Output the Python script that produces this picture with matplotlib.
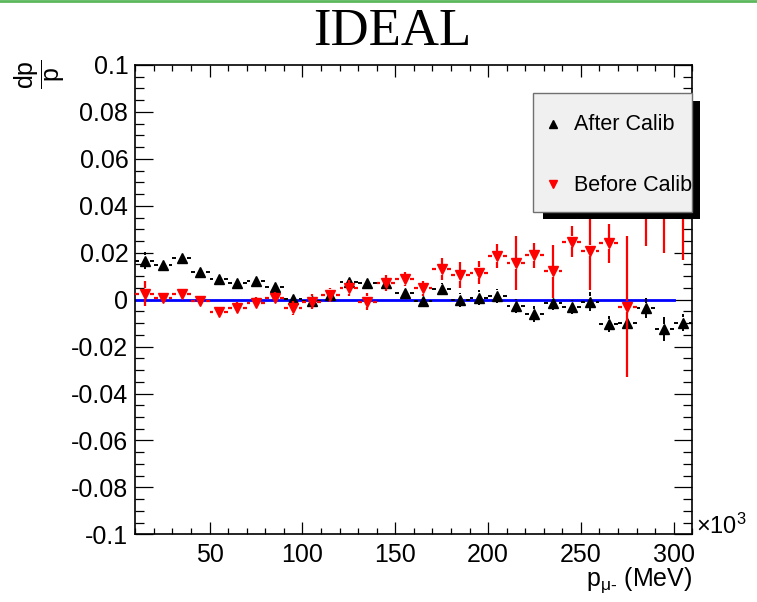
import matplotlib
matplotlib.use("Agg")
import matplotlib.pyplot as plt
import numpy as np
from matplotlib.collections import LineCollection
from matplotlib.patches import Rectangle
from matplotlib.lines import Line2D
from matplotlib.ticker import MultipleLocator, FixedLocator, FuncFormatter
from matplotlib.transforms import Bbox, TransformedBbox

plt.rcParams['font.family'] = ['Liberation Sans', 'DejaVu Sans']
plt.rcParams['mathtext.fontset'] = 'custom'
plt.rcParams['mathtext.rm'] = 'Liberation Sans'
plt.rcParams['mathtext.it'] = 'Liberation Sans'
plt.rcParams['mathtext.bf'] = 'Liberation Sans:bold'
plt.rcParams['mathtext.sf'] = 'Liberation Sans'

# momentum bin centres (x10^3 MeV) and half bin width
p_bins = [15, 25, 35, 45, 55, 65, 75, 85, 95, 105, 115, 125, 135, 145, 155,
          165, 175, 185, 195, 205, 215, 225, 235, 245, 255, 265, 275, 285, 295, 305]
bin_half = 5.0

# relative momentum residual after calibration
after_dp = [0.0165, 0.0148, 0.0176, 0.0119, 0.0088, 0.0073, 0.0080, 0.0053, 0.0002, -0.0005,
            0.0020, 0.0077, 0.0073, 0.0070, 0.0030, -0.0006, 0.0044, -0.0001, 0.0009, 0.0016,
            -0.0027, -0.0062, -0.0015, -0.0030, -0.0008, -0.0104, -0.0101, -0.0037, -0.0126, -0.0098]
after_err = [0.0036, 0.0020, 0.0020, 0.0020, 0.0020, 0.0020, 0.0020, 0.0020, 0.0020, 0.0020,
             0.0020, 0.0025, 0.0025, 0.0025, 0.0025, 0.0025, 0.0025, 0.0030, 0.0030, 0.0030,
             0.0030, 0.0035, 0.0030, 0.0030, 0.0040, 0.0035, 0.0040, 0.0043, 0.0050, 0.0036]

# relative momentum residual before calibration
before_dp = [0.0025, 0.0006, 0.0024, -0.0004, -0.0051, -0.0037, -0.0015, 0.0006, -0.0037, -0.0008,
             0.0020, 0.0049, -0.0008, 0.0070, 0.0087, 0.0049, 0.0130, 0.0105, 0.0115, 0.0186,
             0.0155, 0.0190, 0.0120, 0.0247, 0.0208, 0.0240, -0.0030, 0.0450, 0.0500, 0.0400]
before_err = [0.0053, 0.0020, 0.0020, 0.0020, 0.0025, 0.0025, 0.0025, 0.0025, 0.0030, 0.0030,
              0.0030, 0.0035, 0.0035, 0.0035, 0.0030, 0.0032, 0.0048, 0.0055, 0.0050, 0.0050,
              0.0115, 0.0053, 0.0115, 0.0067, 0.0165, 0.0083, 0.0300, 0.0220, 0.0300, 0.0230]

# reference line at zero
ref_x = [10, 300]
ref_y = [0.0, 0.0]

x_major = [50, 100, 150, 200, 250, 300]
x_labels = ['50', '100', '150', '200', '250', '300']

W, H = 757, 602
fig = plt.figure(figsize=(W / 100, H / 100), dpi=100)
fig.patch.set_facecolor('white')


def fx(px):
    return px / W


def fy(py):
    return 1 - py / H


ax = fig.add_axes([fx(135.3), fy(534.3), fx(692.3) - fx(135.3), fy(65) - fy(534.3)])
ax.set_xlim(10, 310)
ax.set_ylim(-0.1, 0.1)

# axis pixel scale, used to leave a gap around each marker in the error bars
x_scale = (692.3 - 135.3) / 300.0
y_scale = (534.3 - 65) / 0.2
gap_px = 5.5
gx = gap_px / x_scale
gy = gap_px / y_scale


def error_segments(xs, ys, es):
    segs = []
    for x, y, e in zip(xs, ys, es):
        segs.append([(x - bin_half, y), (x - gx, y)])
        segs.append([(x + gx, y), (x + bin_half, y)])
        if e > gy:
            segs.append([(x, y - e), (x, y - gy)])
            segs.append([(x, y + gy), (x, y + e)])
    return segs


ax.plot(ref_x, ref_y, color='#0000ff', lw=2.0, zorder=2)

ax.add_collection(LineCollection(error_segments(p_bins, after_dp, after_err),
                                 colors='black', linewidths=1.4, zorder=3))
ax.plot(p_bins, after_dp, linestyle='none', marker='^', color='black', markersize=7, zorder=4)

ax.add_collection(LineCollection(error_segments(p_bins, before_dp, before_err),
                                 colors='#ff0000', linewidths=1.6, zorder=5))
ax.plot(p_bins, before_dp, linestyle='none', marker='v', color='#ff0000', markersize=7.5, zorder=6)

# ticks on all four sides, pointing inwards
ax.xaxis.set_major_locator(FixedLocator(x_major))
ax.set_xticklabels(x_labels)
ax.xaxis.set_minor_locator(MultipleLocator(10))
ax.yaxis.set_major_locator(MultipleLocator(0.02))
ax.yaxis.set_minor_locator(MultipleLocator(0.005))


def yfmt(v, pos):
    v = round(v, 4)
    if abs(v) < 1e-9:
        return '0'
    return ('%g' % v)


ax.yaxis.set_major_formatter(FuncFormatter(yfmt))
ax.tick_params(axis='both', which='both', direction='in', top=True, right=True,
               labelsize=18, width=0.9, colors='black')
ax.tick_params(axis='y', which='major', length=13, pad=5)
ax.tick_params(axis='y', which='minor', length=6.5)
ax.tick_params(axis='x', which='major', length=8.6, pad=6)
ax.tick_params(axis='x', which='minor', length=4.3)
for s in ax.spines.values():
    s.set_linewidth(1.2)

# titles and axis labels
fig.text(fx(392), fy(32), 'IDEAL', family='Liberation Serif', fontsize=38,
         ha='center', va='center')
fig.text(fx(40), fy(74), r'$\dfrac{\mathrm{dp}}{\mathrm{p}}$', rotation=90,
         fontsize=18, ha='center', va='center')
fig.text(fx(692), fy(586), r'p$_{\mu\text{-}}$ (MeV)', fontsize=18,
         ha='right', va='baseline')
fig.text(fx(696), fy(526), r'×10$^{3}$', fontsize=17, ha='left', va='center')

# top border line
fig.add_artist(Line2D([0, 1], [fy(1), fy(1)], color='#5cb85c', lw=2,
                      transform=fig.transFigure))

# legend box with drop shadow
box_l, box_t, box_r, box_b = 533, 93, 692, 212
shadow = Rectangle((fx(box_l + 10), fy(box_b + 7)), fx(box_r + 8) - fx(box_l + 10),
                   fy(box_t + 8) - fy(box_b + 7), transform=fig.transFigure,
                   facecolor='black', edgecolor='none', zorder=10)
box = Rectangle((fx(box_l), fy(box_b)), fx(box_r) - fx(box_l), fy(box_t) - fy(box_b),
                transform=fig.transFigure, facecolor='#f0f0f0', edgecolor='#707070',
                lw=1.0, zorder=11)
fig.add_artist(shadow)
fig.add_artist(box)
clip = TransformedBbox(Bbox.from_extents(fx(box_l), fy(box_b), fx(box_r), fy(box_t)),
                       fig.transFigure)

fig.add_artist(Line2D([fx(553)], [fy(124)], marker='^', color='black', markersize=5.5,
                      linestyle='none', transform=fig.transFigure, zorder=12))
fig.add_artist(Line2D([fx(553)], [fy(184)], marker='v', color='#ff0000', markersize=5.5,
                      linestyle='none', transform=fig.transFigure, zorder=12))
t1 = fig.text(fx(574), fy(124), 'After Calib', fontsize=15.5, ha='left', va='center', zorder=12)
t2 = fig.text(fx(574), fy(185), 'Before Calib', fontsize=15.5, ha='left', va='center', zorder=12)
for t in (t1, t2):
    t.set_clip_box(clip)
    t.set_clip_on(True)

fig.savefig('out.png', dpi=100)
